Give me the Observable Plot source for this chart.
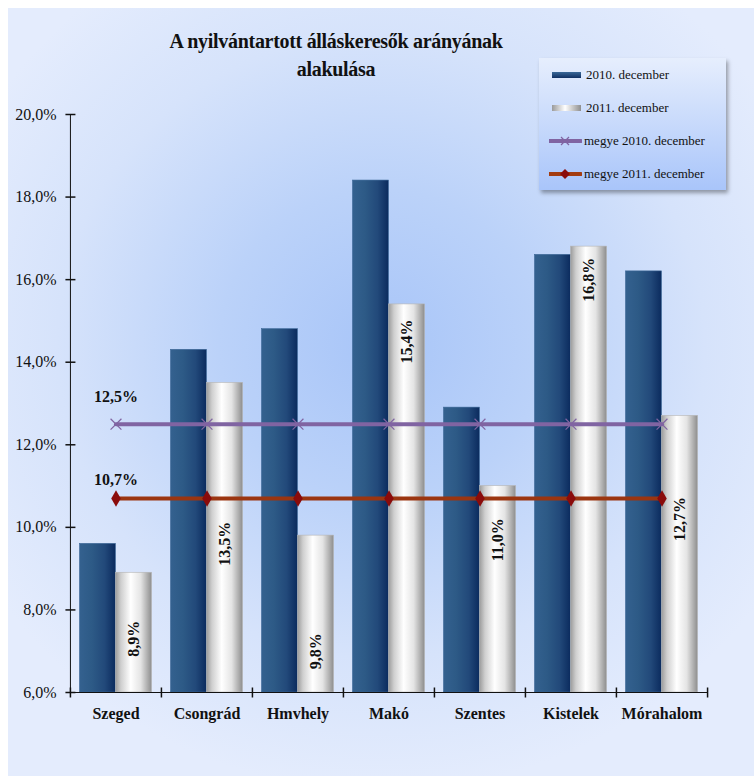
<!DOCTYPE html>
<html>
<head>
<meta charset="utf-8">
<script src="https://cdn.jsdelivr.net/npm/d3@7"></script>
<script src="https://cdn.jsdelivr.net/npm/@observablehq/plot@0.6"></script>
<style>
  html, body { margin: 0; padding: 0; background: #fff; }
  #wrap { position: relative; width: 754px; height: 776px; overflow: hidden; }
  #bg { position: absolute; left: 8px; top: 8px; width: 746px; height: 768px;
        background: radial-gradient(ellipse 62% 58% at 50% 44%, #a8c5f8 0%, #bbd2f9 35%, #d6e3fb 70%, #e4ecfd 100%); }
  #chart { position: absolute; left: 0; top: 0; }
  #title { position: absolute; left: 136px; width: 400px; top: 27px; text-align: center;
           font-family: "Liberation Serif", serif; font-weight: bold; font-size: 20px; line-height: 28px; color: #111; letter-spacing: -0.3px; }
  #legend { position: absolute; left: 539px; top: 58px; width: 187px; height: 132px;
            background: linear-gradient(to bottom, #e6eefd, #a9c5fa);
            box-shadow: 2px 3px 4px rgba(0,0,0,0.35); }
  .item { position: absolute; left: 12px; height: 16px; display: flex; align-items: center;
          font-family: "Liberation Serif", serif; font-size: 13px; color: #111; white-space: nowrap; }
  .item svg { margin-right: 2px; }
</style>
</head>
<body>
<div id="wrap">
  <div id="bg"></div>
  <div id="chart"></div>
  <div id="title">A nyilvántartott álláskeresők arányának<br>alakulása</div>
  <div id="legend"></div>
</div>
<script>
// ---- data ----
const categories = ["Szeged", "Csongrád", "Hmvhely", "Makó", "Szentes", "Kistelek", "Mórahalom"];
const dec2010 = [9.6, 14.3, 14.8, 18.4, 12.9, 16.6, 16.2];
const dec2011 = [8.9, 13.5, 9.8, 15.4, 11.0, 16.8, 12.7];
const county2010 = 12.5;
const county2011 = 10.7;
const yTicks = [6, 8, 10, 12, 14, 16, 18, 20];
// where the rotated 2011 value labels sit (value-axis units)
const labelAnchor2011 = [7.3, 9.6, 7.0, 14.5, 9.7, 16.0, 10.2];
const seriesNames = ["2010. december", "2011. december", "megye 2010. december", "megye 2011. december"];

const rows = categories.map((c, i) => ({cat: c, a: dec2010[i], b: dec2011[i], lab: labelAnchor2011[i]}));
const fmt = v => v.toFixed(1).replace(".", ",") + "%";

const W = 754, H = 776, mL = 69, mR = 47, mT = 114, mB = 84;
const bw = (W - mL - mR) / categories.length;
const pad = 9.5, half = bw / 2;
const serif = "'Liberation Serif', 'Times New Roman', serif";

const htick = {draw(ctx) { ctx.moveTo(-5, 0); ctx.lineTo(5, 0); }};
const vtick = {draw(ctx) { ctx.moveTo(0, -5); ctx.lineTo(0, 5); }};

const plot = Plot.plot({
  width: W, height: H,
  marginLeft: mL, marginRight: mR, marginTop: mT, marginBottom: mB,
  style: {background: "transparent", fontFamily: serif, fontSize: "16px", color: "#111", overflow: "visible"},
  x: {domain: categories, padding: 0, label: null},
  y: {domain: [6, 20], ticks: yTicks, tickFormat: fmt, label: null},
  marks: [
    Plot.axisY({ticks: yTicks, tickFormat: fmt, tickSize: 0, tickPadding: 13, label: null, fontSize: 16}),
    Plot.axisX({tickSize: 0, tickPadding: 15, label: null, fontWeight: "bold", fontSize: 16}),
    Plot.barY(rows, {x: "cat", y1: 6, y2: "a", insetLeft: pad, insetRight: half,
      fill: "url(#gDark)", stroke: "#3b6797", strokeWidth: 0.6}),
    Plot.barY(rows, {x: "cat", y1: 6, y2: "b", insetLeft: half, insetRight: pad,
      fill: "url(#gSilver)", stroke: "#b5b5b5", strokeWidth: 0.6}),
    Plot.text(rows, {x: "cat", y: "lab", text: d => fmt(d.b), rotate: -90, dx: (half - pad) / 2,
      fontWeight: "bold", fontSize: 16, fill: "#111"}),
    Plot.line(rows, {x: "cat", y: () => county2010, stroke: "#8064a2", strokeWidth: 4}),
    Plot.dot(rows, {x: "cat", y: () => county2010, symbol: "times", stroke: "#8064a2", r: 5, strokeWidth: 1.2}),
    Plot.line(rows, {x: "cat", y: () => county2011, stroke: "#9b3510", strokeWidth: 4}),
    Plot.dot(rows, {x: "cat", y: () => county2011, symbol: "diamond", fill: "#8a0b0b", stroke: "none", r: 5}),
    Plot.text([county2010], {x: () => categories[0], y: d => d, text: fmt, dy: -27, fontWeight: "bold", fontSize: 16, fill: "#111"}),
    Plot.text([county2011], {x: () => categories[0], y: d => d, text: fmt, dy: -19, fontWeight: "bold", fontSize: 16, fill: "#111"}),
    Plot.ruleY([6], {stroke: "#111", strokeWidth: 1}),
    Plot.ruleX([categories[0]], {y1: 6, y2: 20, dx: -half, stroke: "#111", strokeWidth: 1}),
    Plot.dot(yTicks, {x: () => categories[0], y: d => d, dx: -half, symbol: htick, stroke: "#111", fill: "none"}),
    Plot.dot(categories, {x: d => d, y: () => 6, dx: -half, symbol: vtick, stroke: "#111", fill: "none"}),
    Plot.dot(categories.slice(-1), {x: d => d, y: () => 6, dx: half, symbol: vtick, stroke: "#111", fill: "none"})
  ]
});

// gradients
const defs = d3.select(plot).insert("defs", ":first-child");
const gd = defs.append("linearGradient").attr("id", "gDark").attr("x1", 0).attr("x2", 1).attr("y1", 0).attr("y2", 0);
[[0, "#34618f"], [0.35, "#2d5a86"], [0.7, "#22497a"], [1, "#0b2b5e"]].forEach(([o, c]) => gd.append("stop").attr("offset", o).attr("stop-color", c));
const gs = defs.append("linearGradient").attr("id", "gSilver").attr("x1", 0).attr("x2", 1).attr("y1", 0).attr("y2", 0);
[[0, "#9c9c9c"], [0.15, "#cfcfcf"], [0.42, "#ffffff"], [0.7, "#e4e4e4"], [1, "#8e8e8e"]].forEach(([o, c]) => gs.append("stop").attr("offset", o).attr("stop-color", c));

document.getElementById("chart").appendChild(plot);

// legend
const legend = d3.select("#legend");
const swatches = [
  s => { const g = s.append("defs").append("linearGradient").attr("id", "lgDark").attr("x1", 0).attr("x2", 0).attr("y1", 0).attr("y2", 1);
         g.append("stop").attr("offset", 0).attr("stop-color", "#3a6898"); g.append("stop").attr("offset", 1).attr("stop-color", "#102f62");
         s.append("rect").attr("x", 1).attr("y", 5).attr("width", 29).attr("height", 6).attr("fill", "url(#lgDark)"); },
  s => { const g = s.append("defs").append("linearGradient").attr("id", "lgSil");
         [[0, "#9a9a9a"], [0.45, "#ffffff"], [1, "#8e8e8e"]].forEach(([o, c]) => g.append("stop").attr("offset", o).attr("stop-color", c));
         s.append("rect").attr("x", 1).attr("y", 5).attr("width", 29).attr("height", 6).attr("fill", "url(#lgSil)"); },
  s => { s.append("line").attr("x1", 0).attr("x2", 32).attr("y1", 8).attr("y2", 8).attr("stroke", "#8064a2").attr("stroke-width", 4).attr("stroke-linecap", "round");
         s.append("path").attr("d", "M12,4L20,12M20,4L12,12").attr("stroke", "#8064a2").attr("stroke-width", 1.2); },
  s => { s.append("line").attr("x1", 0).attr("x2", 32).attr("y1", 8).attr("y2", 8).attr("stroke", "#a33c10").attr("stroke-width", 4).attr("stroke-linecap", "round");
         s.append("path").attr("d", "M16,3L21,8L16,13L11,8Z").attr("fill", "#8a0b0b"); }
];
seriesNames.forEach((name, i) => {
  const it = legend.append("div").attr("class", "item").style("top", (9 + i * 33) + "px")
    .style("left", i < 2 ? "12px" : "10px");
  const s = it.append("svg").attr("width", 33).attr("height", 16);
  swatches[i](s);
  it.append("span").text(name);
});
</script>
</body>
</html>
